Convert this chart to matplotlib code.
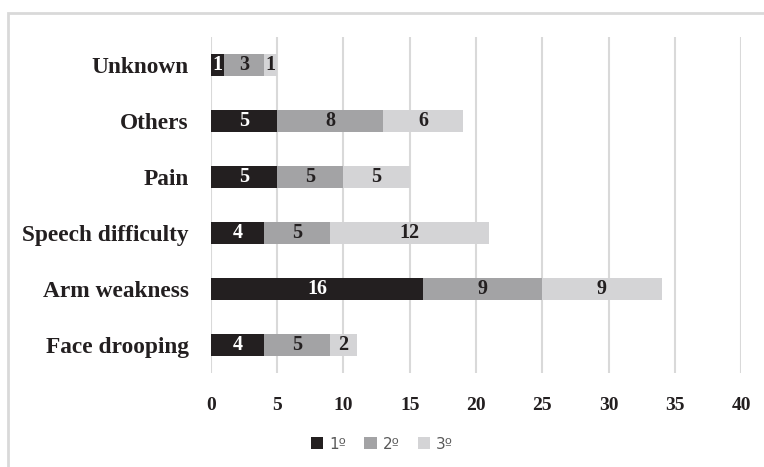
import matplotlib
matplotlib.use("Agg")
import matplotlib.pyplot as plt
from matplotlib.patches import Rectangle, Patch
import numpy as np

categories = ["Face drooping", "Arm weakness", "Speech difficulty", "Pain", "Others", "Unknown"]
first = [4, 16, 4, 5, 5, 1]
second = [5, 9, 5, 5, 8, 3]
third = [2, 9, 12, 5, 6, 1]
series_names = ["1º", "2º", "3º"]
colors = ["#231f20", "#a3a3a5", "#d4d4d6"]
text_colors = ["white", "#231f20", "#231f20"]
xticks = [0, 5, 10, 15, 20, 25, 30, 35, 40]

fig = plt.figure(figsize=(7.64, 4.67), dpi=100)
ax = fig.add_axes([0.276, 0.201, 0.694, 0.720])

serif = "Liberation Serif"
y = np.arange(len(categories))
left = np.zeros(len(categories))
handles = []
for vals, col, tcol, name in zip([first, second, third], colors, text_colors, series_names):
    vals = np.array(vals, dtype=float)
    bars = ax.barh(y, vals, left=left, height=0.4, color=col, zorder=3)
    for b, v, l in zip(bars, vals, left):
        ax.text(l + v / 2, b.get_y() + b.get_height() / 2, f"{int(v)}",
                ha="center", va="center", color=tcol, fontsize=14.5,
                fontweight="bold", family=serif, zorder=4)
    left = left + vals
    handles.append(Patch(facecolor=col, edgecolor="none", label=name))

ax.set_xlim(0, 40)
ax.set_ylim(-0.5, 5.5)
ax.set_xticks(xticks)
ax.set_xticklabels([str(t) for t in xticks], fontsize=14, fontweight="bold", family=serif, color="#231f20")
ax.set_yticks(y)
ax.set_yticklabels(categories, fontsize=16.8, fontweight="bold", family=serif, color="#231f20")
ax.tick_params(axis="y", length=0, pad=16)
ax.tick_params(axis="x", length=0, pad=17)
ax.grid(axis="x", color="#d9d9d9", linewidth=1.5, zorder=0)
ax.set_axisbelow(True)
for s in ax.spines.values():
    s.set_visible(False)

leg = fig.legend(handles=handles, loc="center", bbox_to_anchor=(0.5, 0.049), ncol=3,
                 frameon=False, fontsize=11, handlelength=0.8, handleheight=0.8,
                 handletextpad=0.4, columnspacing=1.2)
for t in leg.get_texts():
    t.set_color("#595959")

fig.patches.append(Rectangle((8 / 764, -0.1), 1.2, 1 - 13 / 467 + 0.1, transform=fig.transFigure,
                             fill=False, edgecolor="#d9d9d9", linewidth=2, zorder=0))

fig.savefig("out.png", dpi=100)
